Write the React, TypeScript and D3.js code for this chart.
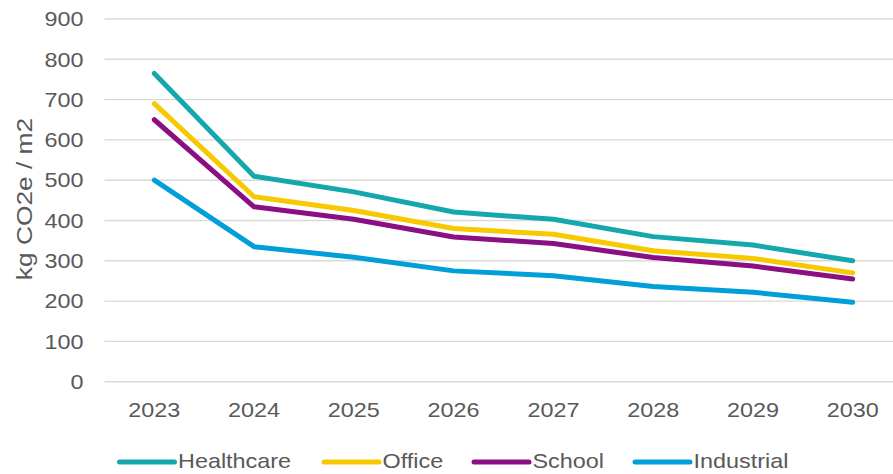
import React from "react";
import * as d3 from "d3";

const years = ["2023", "2024", "2025", "2026", "2027", "2028", "2029", "2030"];
const healthcare = [765, 510, 471, 421, 403, 360, 339, 300];
const office = [690, 459, 425, 380, 366, 325, 306, 270];
const school = [650, 434, 403, 359, 343, 308, 287, 255];
const industrial = [500, 335, 309, 275, 263, 236, 222, 197];
const yTicks = [0, 100, 200, 300, 400, 500, 600, 700, 800, 900];

const seriesNames = ["Healthcare", "Office", "School", "Industrial"];
const seriesValues = [healthcare, office, school, industrial];
const seriesColors = ["#14A8AC", "#F8C800", "#8B0E82", "#009FDA"];

const W = 893;
const H = 474;
const TEXT = "#595959";
const GRID = "#D9D9D9";
const FONT = "'Liberation Sans', Arial, sans-serif";
const STRETCH = 1.17;

// Text drawn slightly widened along its baseline
function WideText({ x, y, rotate = 0, anchor = "start", size = 20, children }: any) {
  return (
    <text
      transform={`translate(${x},${y}) rotate(${rotate}) scale(${STRETCH},1)`}
      textAnchor={anchor}
      fontSize={size}
      fontFamily={FONT}
      fill={TEXT}
    >
      {children}
    </text>
  );
}

export default function App() {
  const x = d3.scalePoint<string>().domain(years).range([154.3, 852.7]);
  const y = d3.scaleLinear().domain([0, 900]).range([381.7, 19]);
  const plotLeft = 104.5;

  const line = d3
    .line<number>()
    .x((_, i) => x(years[i]) as number)
    .y((d) => y(d));

  const legendX = [119.5, 324, 474, 635];

  return (
    <svg
      width={W}
      height={H}
      style={{ position: "absolute", left: 0, top: 0, background: "#fff" }}
    >
      {yTicks.map((t) => (
        <g key={t}>
          <line x1={plotLeft} x2={W} y1={y(t)} y2={y(t)} stroke={GRID} strokeWidth={1.4} />
          <WideText x={83.5} y={y(t) + 7.2} anchor="end">
            {t}
          </WideText>
        </g>
      ))}

      {years.map((yr) => (
        <WideText key={yr} x={x(yr) as number} y={417.3} anchor="middle">
          {yr}
        </WideText>
      ))}

      <WideText x={31.5} y={199} rotate={-90} anchor="middle" size={22.5}>
        kg CO2e / m2
      </WideText>

      {seriesValues.map((vals, i) => (
        <path
          key={seriesNames[i]}
          d={line(vals) as string}
          fill="none"
          stroke={seriesColors[i]}
          strokeWidth={5}
          strokeLinecap="round"
          strokeLinejoin="round"
        />
      ))}

      {seriesNames.map((name, i) => (
        <g key={name}>
          <line
            x1={legendX[i]}
            x2={legendX[i] + 55}
            y1={462}
            y2={462}
            stroke={seriesColors[i]}
            strokeWidth={5}
            strokeLinecap="round"
          />
          <WideText x={legendX[i] + 58.5} y={468.3}>
            {name}
          </WideText>
        </g>
      ))}
    </svg>
  );
}
